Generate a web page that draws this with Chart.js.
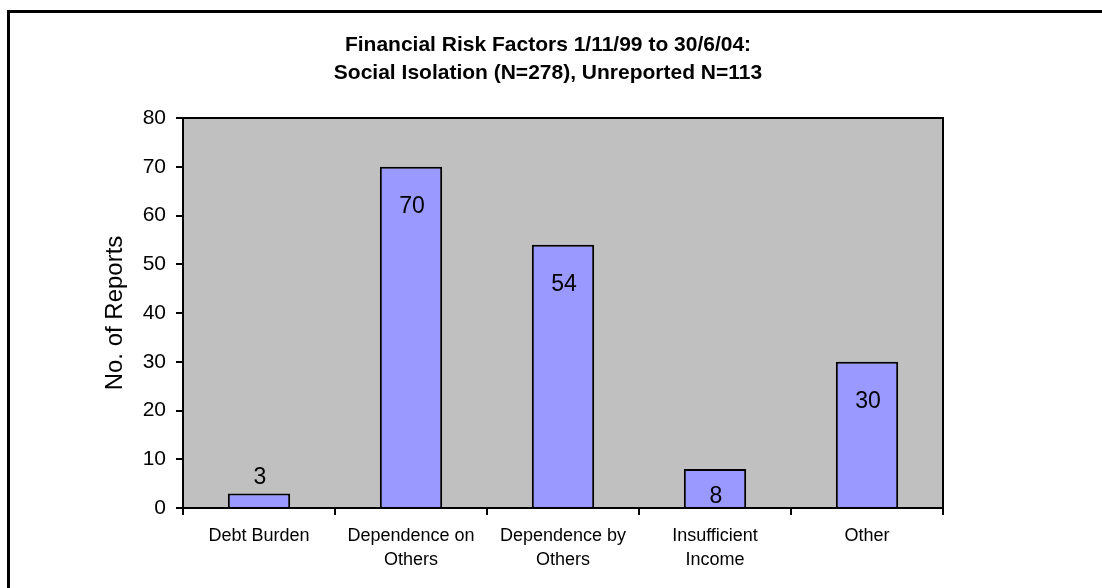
<!DOCTYPE html>
<html lang="en">
<head>
    <meta charset="UTF-8">
    <title>Financial Risk Factors</title>
    <script src="https://cdn.jsdelivr.net/npm/chart.js"></script>
    <style>
        body { margin: 0; background: #fff; }
    </style>
</head>
<body>
    <canvas id="riskChart" width="1102" height="588"></canvas>

    <script>
        // categories and counts
        const factors = [
            ['Debt Burden'],
            ['Dependence on', 'Others'],
            ['Dependence by', 'Others'],
            ['Insufficient', 'Income'],
            ['Other']
        ];
        const reports = [3, 70, 54, 8, 30];
        const titleLines = [
            'Financial Risk Factors 1/11/99 to 30/6/04:',
            'Social Isolation (N=278), Unreported N=113'
        ];
        const yLabel = 'No. of Reports';

        const FONT = '"Liberation Sans", Arial, sans-serif';
        Chart.defaults.font.family = FONT;
        Chart.defaults.color = '#000';

        // white page, outer frame, grey plot area and the two-line title
        const backdrop = {
            id: 'backdrop',
            beforeDraw(chart) {
                const { ctx, chartArea: a } = chart;
                ctx.save();
                ctx.fillStyle = '#fff';
                ctx.fillRect(0, 0, chart.width, chart.height);

                ctx.strokeStyle = '#000';
                ctx.lineWidth = 3;
                ctx.beginPath();
                ctx.moveTo(chart.width, 11.5);
                ctx.lineTo(8.5, 11.5);
                ctx.lineTo(8.5, chart.height);
                ctx.stroke();

                ctx.fillStyle = '#c0c0c0';
                ctx.fillRect(a.left, a.top, a.right - a.left, a.bottom - a.top);

                ctx.font = 'bold 21px ' + FONT;
                ctx.fillStyle = '#000';
                ctx.textAlign = 'center';
                ctx.textBaseline = 'middle';
                titleLines.forEach((t, i) => ctx.fillText(t, 548, 45 + i * 28));
                ctx.restore();
            },
            beforeDatasetsDraw(chart) {
                const { ctx, chartArea: a } = chart;
                ctx.save();
                ctx.strokeStyle = '#000';
                ctx.lineWidth = 2;
                ctx.beginPath();
                ctx.moveTo(a.left, a.top);
                ctx.lineTo(a.right, a.top);
                ctx.lineTo(a.right, a.bottom);
                ctx.stroke();
                ctx.restore();
            }
        };

        // value labels: inside near the top of tall bars, above short ones
        const barLabels = {
            id: 'barLabels',
            afterDatasetsDraw(chart) {
                const { ctx } = chart;
                const meta = chart.getDatasetMeta(0);
                ctx.save();
                ctx.font = '23px ' + FONT;
                ctx.fillStyle = '#000';
                ctx.textAlign = 'center';
                ctx.textBaseline = 'middle';
                meta.data.forEach((bar, i) => {
                    const h = bar.base - bar.y;
                    const y = h < 25 ? bar.y - 16 : Math.min(bar.y + 40, bar.base - 10);
                    ctx.fillText(String(reports[i]), bar.x + 1, y);
                });
                ctx.restore();
            }
        };

        const ctx = document.getElementById('riskChart').getContext('2d');
        new Chart(ctx, {
            type: 'bar',
            data: {
                labels: factors,
                datasets: [{
                    data: reports,
                    backgroundColor: '#9999ff',
                    borderColor: '#000',
                    borderWidth: 2,
                    categoryPercentage: 1,
                    barPercentage: 0.41
                }]
            },
            options: {
                responsive: false,
                animation: false,
                layout: { padding: { left: 8, top: 118, right: 159, bottom: 0 } },
                plugins: {
                    legend: { display: false },
                    tooltip: { enabled: false }
                },
                scales: {
                    x: {
                        afterFit(scale) { scale.height = 80; },
                        grid: {
                            drawOnChartArea: false,
                            color: '#000',
                            lineWidth: 2,
                            tickLength: 7
                        },
                        border: { color: '#000', width: 2, z: 1 },
                        ticks: {
                            padding: 10,
                            maxRotation: 0,
                            autoSkip: false,
                            font: { size: 18, lineHeight: 1.28 }
                        }
                    },
                    y: {
                        min: 0,
                        max: 80,
                        afterFit(scale) { scale.width = 175; },
                        grid: {
                            drawOnChartArea: false,
                            color: '#000',
                            lineWidth: 2,
                            tickLength: 7
                        },
                        border: { color: '#000', width: 2, z: 1 },
                        ticks: {
                            stepSize: 10,
                            padding: 10,
                            font: { size: 21 }
                        },
                        title: {
                            display: true,
                            text: yLabel,
                            font: { size: 24 },
                            padding: { top: 93, bottom: 0 }
                        }
                    }
                }
            },
            plugins: [backdrop, barLabels]
        });
    </script>
</body>
</html>
